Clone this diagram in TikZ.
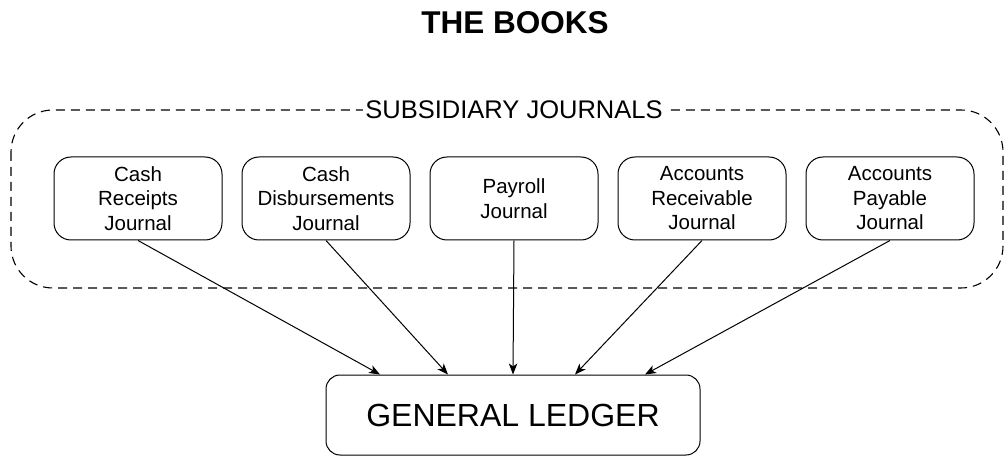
\documentclass[tikz,border=0pt]{standalone}
\usepackage{fontspec}
\setmainfont{Liberation Sans}
\usetikzlibrary{arrows.meta}
\begin{document}
\begin{tikzpicture}[x=1pt,y=-1pt,
  jbox/.style={draw, line width=1pt, rounded corners=17pt, minimum width=168pt, minimum height=83pt,
    inner sep=0pt, align=center, font=\fontsize{20.5}{24.5}\selectfont},
  flow/.style={line width=1pt, -{Stealth[length=11pt,width=8.5pt,inset=3pt]}}]
\useasboundingbox (0,0) rectangle (1005,457);
\node[font=\fontsize{31.5}{36}\selectfont\bfseries] (title) at (515,23) {THE BOOKS};
\draw[line width=1.1pt, dash pattern=on 9pt off 6pt, rounded corners=42pt] (11,110) rectangle (1003,288);
\node[fill=white, inner sep=2pt, font=\fontsize{25.5}{30}\selectfont] (sub) at (514,110) {SUBSIDIARY JOURNALS};
\node[jbox] (cr) at (138,198.5) {Cash\\Receipts\\Journal};
\node[jbox] (cd) at (326,198.5) {Cash\\Disbursements\\Journal};
\node[jbox] (pr) at (514,198.5) {Payroll\\Journal};
\node[jbox] (ar) at (702,198.5) {Accounts\\Receivable\\Journal};
\node[jbox] (ap) at (890,198.5) {Accounts\\Payable\\Journal};
\node[draw, line width=1pt, rounded corners=14pt, minimum width=374pt, minimum height=80pt, inner sep=0pt,
  font=\fontsize{32}{36}\selectfont] (gl) at (513,415) {GENERAL LEDGER};
\draw[flow] (cr.south) -- ([xshift=-133pt]gl.north);
\draw[flow] (cd.south) -- ([xshift=-65pt]gl.north);
\draw[flow] (pr.south) -- (gl.north);
\draw[flow] (ar.south) -- ([xshift=62pt]gl.north);
\draw[flow] (ap.south) -- ([xshift=132pt]gl.north);
\end{tikzpicture}
\end{document}
